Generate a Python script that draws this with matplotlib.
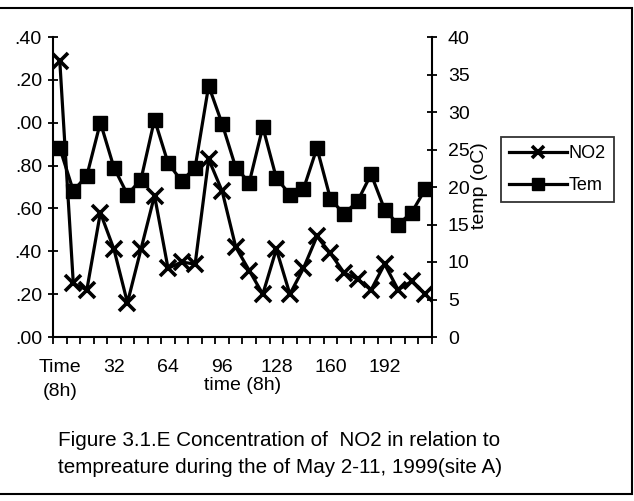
import matplotlib
matplotlib.use("Agg")
import matplotlib.pyplot as plt
from matplotlib.patches import Rectangle

plt.rcParams['font.family'] = ['Liberation Sans', 'DejaVu Sans']

# category labels (time in 8h steps)
categories = ["Time\n(8h)"] + [str(8 * i) for i in range(1, 28)]

no2 = [1.29, 0.25, 0.22, 0.58, 0.41, 0.16, 0.41, 0.66, 0.32, 0.35, 0.34, 0.83, 0.68, 0.42,
       0.31, 0.20, 0.41, 0.20, 0.32, 0.47, 0.39, 0.30, 0.27, 0.22, 0.34, 0.22, 0.26, 0.20]
tem = [25.2, 19.5, 21.5, 28.6, 22.6, 19.0, 21.0, 29.0, 23.2, 20.8, 22.6, 33.5, 28.4, 22.6,
       20.6, 28.0, 21.2, 19.0, 19.7, 25.2, 18.4, 16.4, 18.1, 21.7, 17.0, 15.0, 16.6, 19.7]

left_ticks = [0.0, 0.2, 0.4, 0.6, 0.8, 1.0, 1.2, 1.4]
right_ticks = [0, 5, 10, 15, 20, 25, 30, 35, 40]

W, H = 634, 501
fig = plt.figure(figsize=(W / 100, H / 100), dpi=100)

def fx(px):
    return px / W

def fy(py):
    return 1 - py / H

ax = fig.add_axes([fx(53), fy(337), fx(432) - fx(53), fy(37) - fy(337)])
ax2 = ax.twinx()

x = list(range(len(categories)))
l1, = ax.plot(x, no2, color='black', lw=2.3, marker='x', ms=11, mew=2.6, label='NO2')
l2, = ax2.plot(x, tem, color='black', lw=2.3, marker='s', ms=10, label='Tem')

ax.set_xlim(-0.5, len(categories) - 0.5)
ax.set_ylim(0, 1.4)
ax2.set_ylim(0, 40)

ax.spines['top'].set_visible(False)
ax2.spines['top'].set_visible(False)
ax.spines['right'].set_visible(False)
ax2.spines['left'].set_visible(False)
ax2.spines['bottom'].set_visible(False)
ax.spines['left'].set_linewidth(1.5)
ax.spines['bottom'].set_linewidth(1.5)
ax2.spines['right'].set_linewidth(1.5)

ax.set_yticks(left_ticks)
ax.set_yticklabels([("%.2f" % v)[1:] for v in left_ticks])
ax2.set_yticks(right_ticks)
ax2.set_yticklabels([str(v) for v in right_ticks])

ax.set_xticks(x[::4])
ax.set_xticklabels(categories[::4], linespacing=1.5)
ax.set_xticks([i - 0.5 for i in range(len(categories) + 1)], minor=True)
ax.tick_params(axis='x', which='major', length=0, pad=16, labelsize=14)
ax.tick_params(axis='x', which='minor', length=5, width=1.3, direction='out')
ax.tick_params(axis='y', direction='inout', length=7, width=1.3, pad=4.5, labelsize=14)
ax2.tick_params(axis='y', direction='inout', length=7, width=1.3, pad=8, labelsize=14)

fig.text(fx(243), fy(385), "time (8h)", ha='center', va='center', fontsize=14)
fig.text(fx(480), fy(186), "temp (oC)", ha='center', va='center', rotation=90, fontsize=14)

leg = fig.legend(handles=[l1, l2], loc='center', bbox_to_anchor=(fx(557.5), fy(169.5)),
                 frameon=True, fancybox=False, edgecolor='black', fontsize=13,
                 handlelength=3.2, handletextpad=0.1, borderpad=0.45, labelspacing=0.85,
                 borderaxespad=0, markerscale=0.85)
leg.get_frame().set_linewidth(1.3)

fig.text(fx(58), fy(446), "Figure 3.1.E Concentration of  NO2 in relation to",
         ha='left', va='baseline', fontsize=14.9)
fig.text(fx(58), fy(473), "tempreature during the of May 2-11, 1999(site A)",
         ha='left', va='baseline', fontsize=14.9)

# outer frame
fig.patches.append(Rectangle((fx(-5), fy(494)), fx(632) - fx(-5), fy(8) - fy(494),
                             transform=fig.transFigure, fill=False, edgecolor='black',
                             lw=1.5, clip_on=False))

fig.savefig("out.png", dpi=100)
